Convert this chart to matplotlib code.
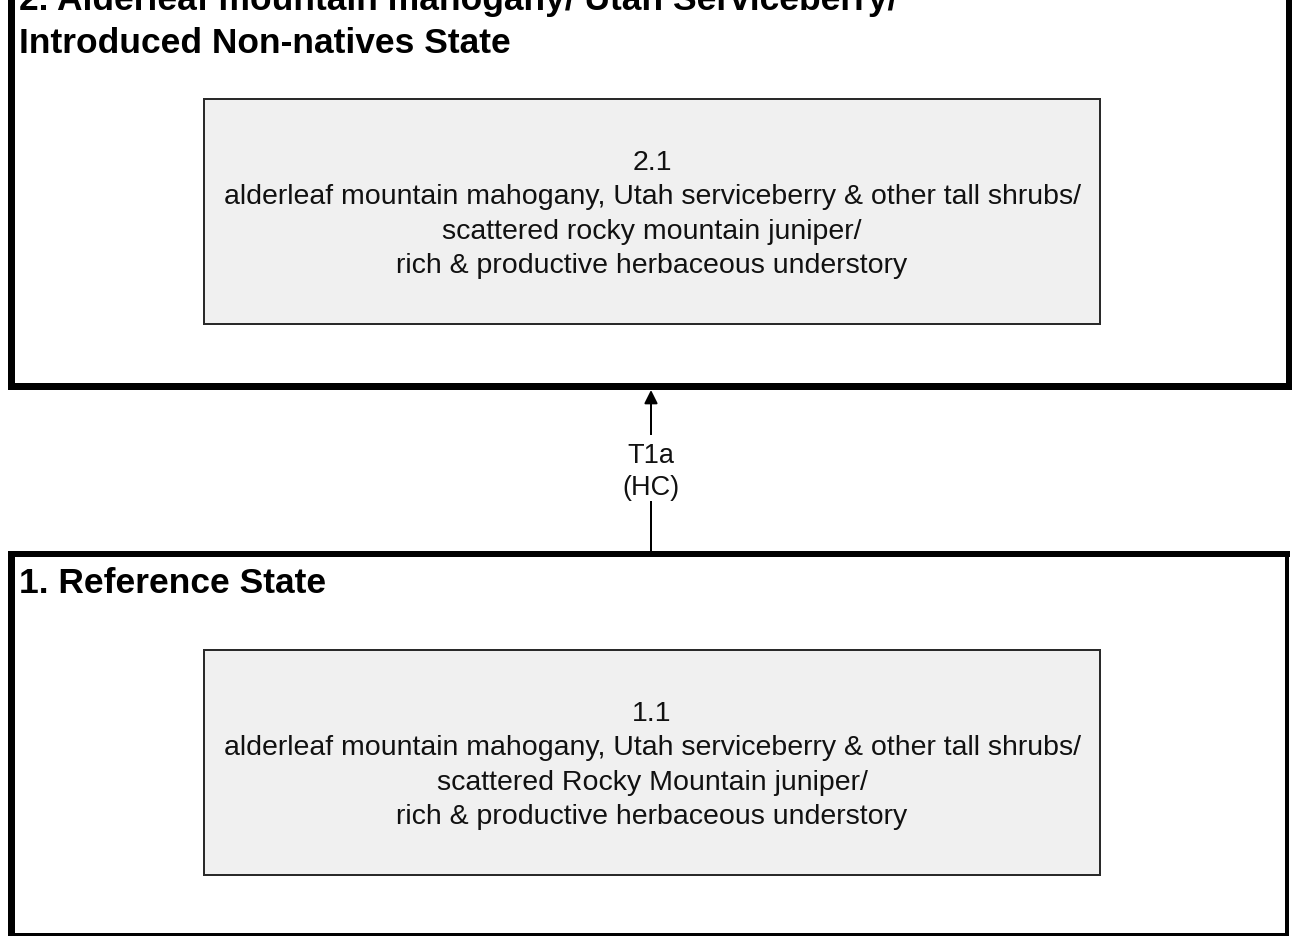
import matplotlib
matplotlib.use("Agg")
import matplotlib.pyplot as plt
from matplotlib.patches import Rectangle

# state titles (top one is cut off by the image edge)
state_titles = [
    ["2. Alderleaf mountain mahogany/ Utah Serviceberry/", "Introduced Non-natives State"],
    ["1. Reference State"],
]

# community phase boxes
phase_ids = ["2.1", "1.1"]
phase_lines = [
    ["alderleaf mountain mahogany, Utah serviceberry & other tall shrubs/",
     "scattered rocky mountain juniper/",
     "rich & productive herbaceous understory"],
    ["alderleaf mountain mahogany, Utah serviceberry & other tall shrubs/",
     "scattered Rocky Mountain juniper/",
     "rich & productive herbaceous understory"],
]

# transition label
transition_label = ["T1a", "(HC)"]

W, H = 1292, 937
fig = plt.figure(figsize=(W / 100, H / 100), dpi=100)
ax = fig.add_axes([0, 0, 1, 1])
ax.set_xlim(0, W)
ax.set_ylim(H, 0)
ax.axis("off")

PX = 0.72  # points per pixel at dpi 100
title_font = ["Liberation Sans", "DejaVu Sans"]
body_font = ["Liberation Sans", "DejaVu Sans"]


def edges(x0, x1, y0, y1, widths):
    # widths: left, top, right, bottom in pixels
    lw_l, lw_t, lw_r, lw_b = widths
    kw = dict(color="black", solid_capstyle="projecting")
    ax.plot([x0, x0], [y0, y1], lw=lw_l * PX, **kw)
    ax.plot([x0, x1], [y0, y0], lw=lw_t * PX, **kw)
    ax.plot([x1, x1], [y0, y1], lw=lw_r * PX, **kw)
    ax.plot([x0, x1], [y1, y1], lw=lw_b * PX, **kw)


# outer state boxes
edges(11, 1289, -40, 387, (7, 7, 7, 7))
edges(11, 1287, 555, 935, (7, 6, 4, 3))

# state titles
title_base = [[10, 53], [593]]
for lines, bases in zip(state_titles, title_base):
    for txt, yb in zip(lines, bases):
        ax.text(19, yb, txt, fontsize=25.5, fontweight="bold", family=title_font,
                va="baseline", ha="left", color="black")

# phase boxes
box_top = [100, 651]
for pid, lines, top in zip(phase_ids, phase_lines, box_top):
    ax.add_patch(Rectangle((204, top), 896, 225, facecolor="#f0f0f0",
                           edgecolor="#2a2a2a", lw=2 * PX, zorder=2))
    rows = [pid] + lines
    for i, txt in enumerate(rows):
        ax.text(652, top + 70 + 34.3 * i, txt, fontsize=20.5, family=body_font,
                ha="center", va="baseline", color="#111111", zorder=3)

# transition arrow from 1 to 2
ax.annotate("", xy=(651, 391), xytext=(651, 552),
            arrowprops=dict(arrowstyle="-|>", color="black", lw=2 * PX,
                            mutation_scale=20, shrinkA=0, shrinkB=0))
ax.add_patch(Rectangle((618, 436), 66, 66, facecolor="white",
                       edgecolor="none", zorder=4))
for i, txt in enumerate(transition_label):
    ax.text(651, 463 + 32 * i, txt, fontsize=19.5, family=body_font,
            ha="center", va="baseline", color="#111111", zorder=5)

fig.savefig("out.png", dpi=100, facecolor="white")
